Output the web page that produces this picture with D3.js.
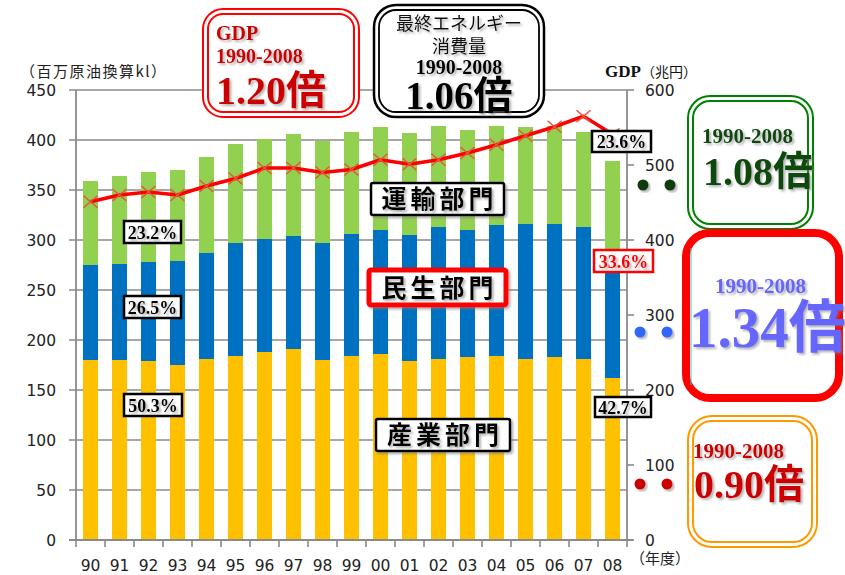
<!DOCTYPE html>
<html>
<head>
<meta charset="utf-8">
<script src="https://cdn.jsdelivr.net/npm/d3@7"></script>
<style>
  body { margin: 0; background: #fff; }
  svg { display: block; }
  .tick-label { font-family: "DejaVu Sans", Verdana, sans-serif; font-size: 15.5px; fill: #222; }
  .serif { font-family: "Liberation Serif", "Times New Roman", "Noto Sans CJK JP", serif; font-weight: bold; }
  .jp { font-family: "Noto Sans CJK JP", sans-serif; }
</style>
</head>
<body>
<div id="chart"></div>
<script>
// 年度
const YEARS = ["90","91","92","93","94","95","96","97","98","99","00","01","02","03","04","05","06","07","08"];
// 百万原油換算kl
const INDUSTRY    = [180,180,179,175,181,184,188,191,180,184,186,179,181,183,184,181,183,181,162];
const RESIDENTIAL = [95,96,99,104,106,113,113,113,117,122,124,126,132,127,131,135,133,132,127];
const TRANSPORT   = [84,88,90,91,96,99,100,102,102,102,103,102,101,100,99,97,98,95,90];
// GDP 兆円
const GDP = [451,460,464,460,472,482,496,496,490,494,507,501,507,516,527,539,551,565,541];

const LEFT_TICKS = [0,50,100,150,200,250,300,350,400,450];
const RIGHT_TICKS = [0,100,200,300,400,500,600];

const SERIES = [
  { key: "industry", values: INDUSTRY, color: "#FFC000" },
  { key: "residential", values: RESIDENTIAL, color: "#0070C0" },
  { key: "transport", values: TRANSPORT, color: "#92D050" }
];

const W = 845, H = 575;
const svg = d3.select("#chart").append("svg").attr("width", W).attr("height", H);

const defs = svg.append("defs");
const shadow = defs.append("filter").attr("id", "shadow").attr("x", "-20%").attr("y", "-20%").attr("width", "140%").attr("height", "140%");
shadow.append("feDropShadow").attr("dx", 2).attr("dy", 2).attr("stdDeviation", 1.2)
  .attr("flood-color", "#777").attr("flood-opacity", 0.55);

const x = d3.scaleBand().domain(YEARS).range([76, 627]).paddingInner(0.48).paddingOuter(0.24);
const y = d3.scaleLinear().domain([0, 450]).range([540, 90]);
const y2 = d3.scaleLinear().domain([0, 600]).range([540, 90]);

const GRID = "#8a8a8a";

// gridlines
svg.append("g").selectAll("line").data(LEFT_TICKS).join("line")
  .attr("x1", 69).attr("x2", 627)
  .attr("y1", d => y(d)).attr("y2", d => y(d))
  .attr("stroke", GRID).attr("stroke-width", 1.6);

// stacked bars
const stackData = YEARS.map((yr, i) => ({ year: yr, industry: INDUSTRY[i], residential: RESIDENTIAL[i], transport: TRANSPORT[i] }));
const stack = d3.stack().keys(SERIES.map(s => s.key))(stackData);
svg.append("g").selectAll("g").data(stack).join("g")
  .attr("fill", (d, i) => SERIES[i].color)
  .selectAll("rect").data(d => d).join("rect")
  .attr("x", d => x(d.data.year))
  .attr("width", x.bandwidth())
  .attr("y", d => y(d[1]))
  .attr("height", d => y(d[0]) - y(d[1]));

// axes
svg.append("line").attr("x1", 76).attr("x2", 76).attr("y1", 90).attr("y2", 540).attr("stroke", GRID).attr("stroke-width", 1.8);
svg.append("line").attr("x1", 627).attr("x2", 627).attr("y1", 90).attr("y2", 540).attr("stroke", GRID).attr("stroke-width", 1.8);
svg.append("line").attr("x1", 69).attr("x2", 633).attr("y1", 540).attr("y2", 540).attr("stroke", GRID).attr("stroke-width", 1.8);

svg.append("g").selectAll("line").data(RIGHT_TICKS).join("line")
  .attr("x1", 627).attr("x2", 634).attr("y1", d => y2(d)).attr("y2", d => y2(d))
  .attr("stroke", GRID).attr("stroke-width", 1.6);

const bounds = YEARS.map(d => x(d) - x.step() * x.paddingInner() / 2).concat([627]);
svg.append("g").selectAll("line").data(bounds).join("line")
  .attr("x1", d => d).attr("x2", d => d).attr("y1", 540).attr("y2", 547)
  .attr("stroke", GRID).attr("stroke-width", 1.6);

svg.append("g").selectAll("text").data(LEFT_TICKS).join("text")
  .attr("class", "tick-label").attr("text-anchor", "end")
  .attr("x", 56).attr("y", d => y(d) + 5.5).text(d => d);

svg.append("g").selectAll("text").data(RIGHT_TICKS).join("text")
  .attr("class", "tick-label").attr("text-anchor", "start")
  .attr("x", 645).attr("y", d => y2(d) + 5.5).text(d => d);

svg.append("g").selectAll("text").data(YEARS).join("text")
  .attr("class", "tick-label").attr("text-anchor", "middle")
  .attr("x", d => x(d) + x.bandwidth() / 2).attr("y", 571).text(d => d);

svg.append("text").attr("class", "jp").attr("x", 20).attr("y", 77)
  .attr("font-size", 15).attr("letter-spacing", 1.5).attr("fill", "#222").text("（百万原油換算kl）");
svg.append("text").attr("class", "jp").attr("x", 630).attr("y", 564)
  .attr("font-size", 15).attr("fill", "#222").text("（年度）");
const gdpTitle = svg.append("text").attr("x", 605).attr("y", 77).attr("fill", "#111");
gdpTitle.append("tspan").attr("class", "serif").attr("font-size", 17).text("GDP");
gdpTitle.append("tspan").attr("class", "jp").attr("font-size", 14).text("（兆円）");

// GDP line
const line = d3.line().x((d, i) => x(YEARS[i]) + x.bandwidth() / 2).y(d => y2(d));
svg.append("path").datum(GDP).attr("d", line)
  .attr("fill", "none").attr("stroke", "#ff0000").attr("stroke-width", 3.5).attr("stroke-linejoin", "round");
svg.append("g").selectAll("path").data(GDP).join("path")
  .attr("transform", (d, i) => `translate(${x(YEARS[i]) + x.bandwidth() / 2},${y2(d)})`)
  .attr("d", "M-7,-6L7,6M-7,6L7,-6")
  .attr("stroke", "#e8553a").attr("stroke-width", 1.5).attr("fill", "none");

// percent labels
function pctLabel(cx, cy, w, h, txt, color) {
  const g = svg.append("g");
  g.append("rect").attr("x", cx).attr("y", cy).attr("width", w).attr("height", h)
    .attr("fill", "#fff").attr("stroke", color).attr("stroke-width", 2.5);
  g.append("text").attr("class", "serif").attr("x", cx + w / 2).attr("y", cy + h / 2 + 6.5)
    .attr("text-anchor", "middle").attr("font-size", 18).attr("fill", color)
    .attr("filter", "url(#shadow)").text(txt);
}
pctLabel(124, 221, 57, 22, "23.2%", "#000");
pctLabel(124, 296, 57, 22, "26.5%", "#000");
pctLabel(124, 394, 58, 22, "50.3%", "#000");
pctLabel(592, 131, 59, 21, "23.6%", "#000");
pctLabel(594, 250, 59, 22, "33.6%", "#ff0000");
pctLabel(595, 397, 56, 20, "42.7%", "#000");

// sector labels
function sectorLabel(bx, by, w, h, txt, color, sw) {
  const g = svg.append("g");
  g.append("rect").attr("x", bx).attr("y", by).attr("width", w).attr("height", h)
    .attr("fill", "#fff").attr("stroke", color).attr("stroke-width", sw).attr("rx", 2)
    .attr("filter", "url(#shadow)");
  g.append("text").attr("class", "jp").attr("x", bx + w / 2 + 2).attr("y", by + h / 2 + 9)
    .attr("text-anchor", "middle").attr("font-size", 25).attr("font-weight", "bold")
    .attr("letter-spacing", 4).attr("fill", "#000").attr("filter", "url(#shadow)").text(txt);
}
sectorLabel(371, 183, 133, 32, "運輸部門", "#000", 2.5);
sectorLabel(369, 270, 137, 35, "民生部門", "#ff0000", 5);
sectorLabel(376, 419, 134, 32, "産業部門", "#000", 2.5);

// boxes
function doubleBox(bx, by, w, h, color, sw1, sw2, gap, r) {
  svg.append("rect").attr("x", bx).attr("y", by).attr("width", w).attr("height", h)
    .attr("rx", r).attr("fill", "#fff").attr("stroke", color).attr("stroke-width", sw1);
  svg.append("rect").attr("x", bx + gap).attr("y", by + gap).attr("width", w - 2 * gap).attr("height", h - 2 * gap)
    .attr("rx", r - gap).attr("fill", "none").attr("stroke", color).attr("stroke-width", sw2);
}
function boxText(tx, ty, size, color, txt, anchor, cls) {
  svg.append("text").attr("class", cls || "serif").attr("x", tx).attr("y", ty)
    .attr("text-anchor", anchor || "start").attr("font-size", size).attr("fill", color)
    .attr("filter", "url(#shadow)").text(txt);
}

// GDP box
doubleBox(203, 9, 156, 108, "#ff0000", 2, 2, 5, 20);
boxText(216, 40, 20, "#cc0000", "GDP");
boxText(216, 63, 20, "#cc0000", "1990-2008");
boxText(216, 104, 40, "#cc0000", "1.20倍");

// Energy box
doubleBox(374, 5, 170, 112, "#000", 2.5, 1.8, 5, 22);
boxText(459, 30, 18, "#111", "最終エネルギー", "middle", "jp");
boxText(459, 53, 18, "#111", "消費量", "middle", "jp");
boxText(459, 74, 20, "#000", "1990-2008", "middle");
boxText(459, 109, 39, "#000", "1.06倍", "middle");

// dots
function dots(cy, color, xs) {
  svg.append("g").selectAll("circle").data(xs).join("circle")
    .attr("cx", d => d).attr("cy", cy).attr("r", 5.5).attr("fill", color)
    .attr("filter", "url(#shadow)");
}
dots(185, "#0b3d0b", [643, 670]);
dots(332, "#3366ff", [640, 667]);
dots(484, "#cc0000", [640, 667]);

// green box
doubleBox(688, 96, 125, 133, "#008000", 2, 2, 5, 22);
boxText(702, 143, 21, "#0a4a0a", "1990-2008");
boxText(703, 185, 40, "#0a4a0a", "1.08倍");

// red box
svg.append("rect").attr("x", 686).attr("y", 233).attr("width", 153).attr("height", 165)
  .attr("rx", 24).attr("fill", "#fff").attr("stroke", "#ff0000").attr("stroke-width", 8);
svg.append("line").attr("x1", 691).attr("x2", 691).attr("y1", 248).attr("y2", 385)
  .attr("stroke", "#33cccc").attr("stroke-width", 1);
boxText(715, 293, 21, "#6666ff", "1990-2008");
boxText(689, 347, 57, "#6666ff", "1.34倍");

// orange box
doubleBox(688, 416, 129, 131, "#ff9900", 2, 2, 5, 24);
boxText(693, 458, 21, "#cc0000", "1990-2008");
boxText(694, 498, 40, "#cc0000", "0.90倍");
</script>
</body>
</html>
